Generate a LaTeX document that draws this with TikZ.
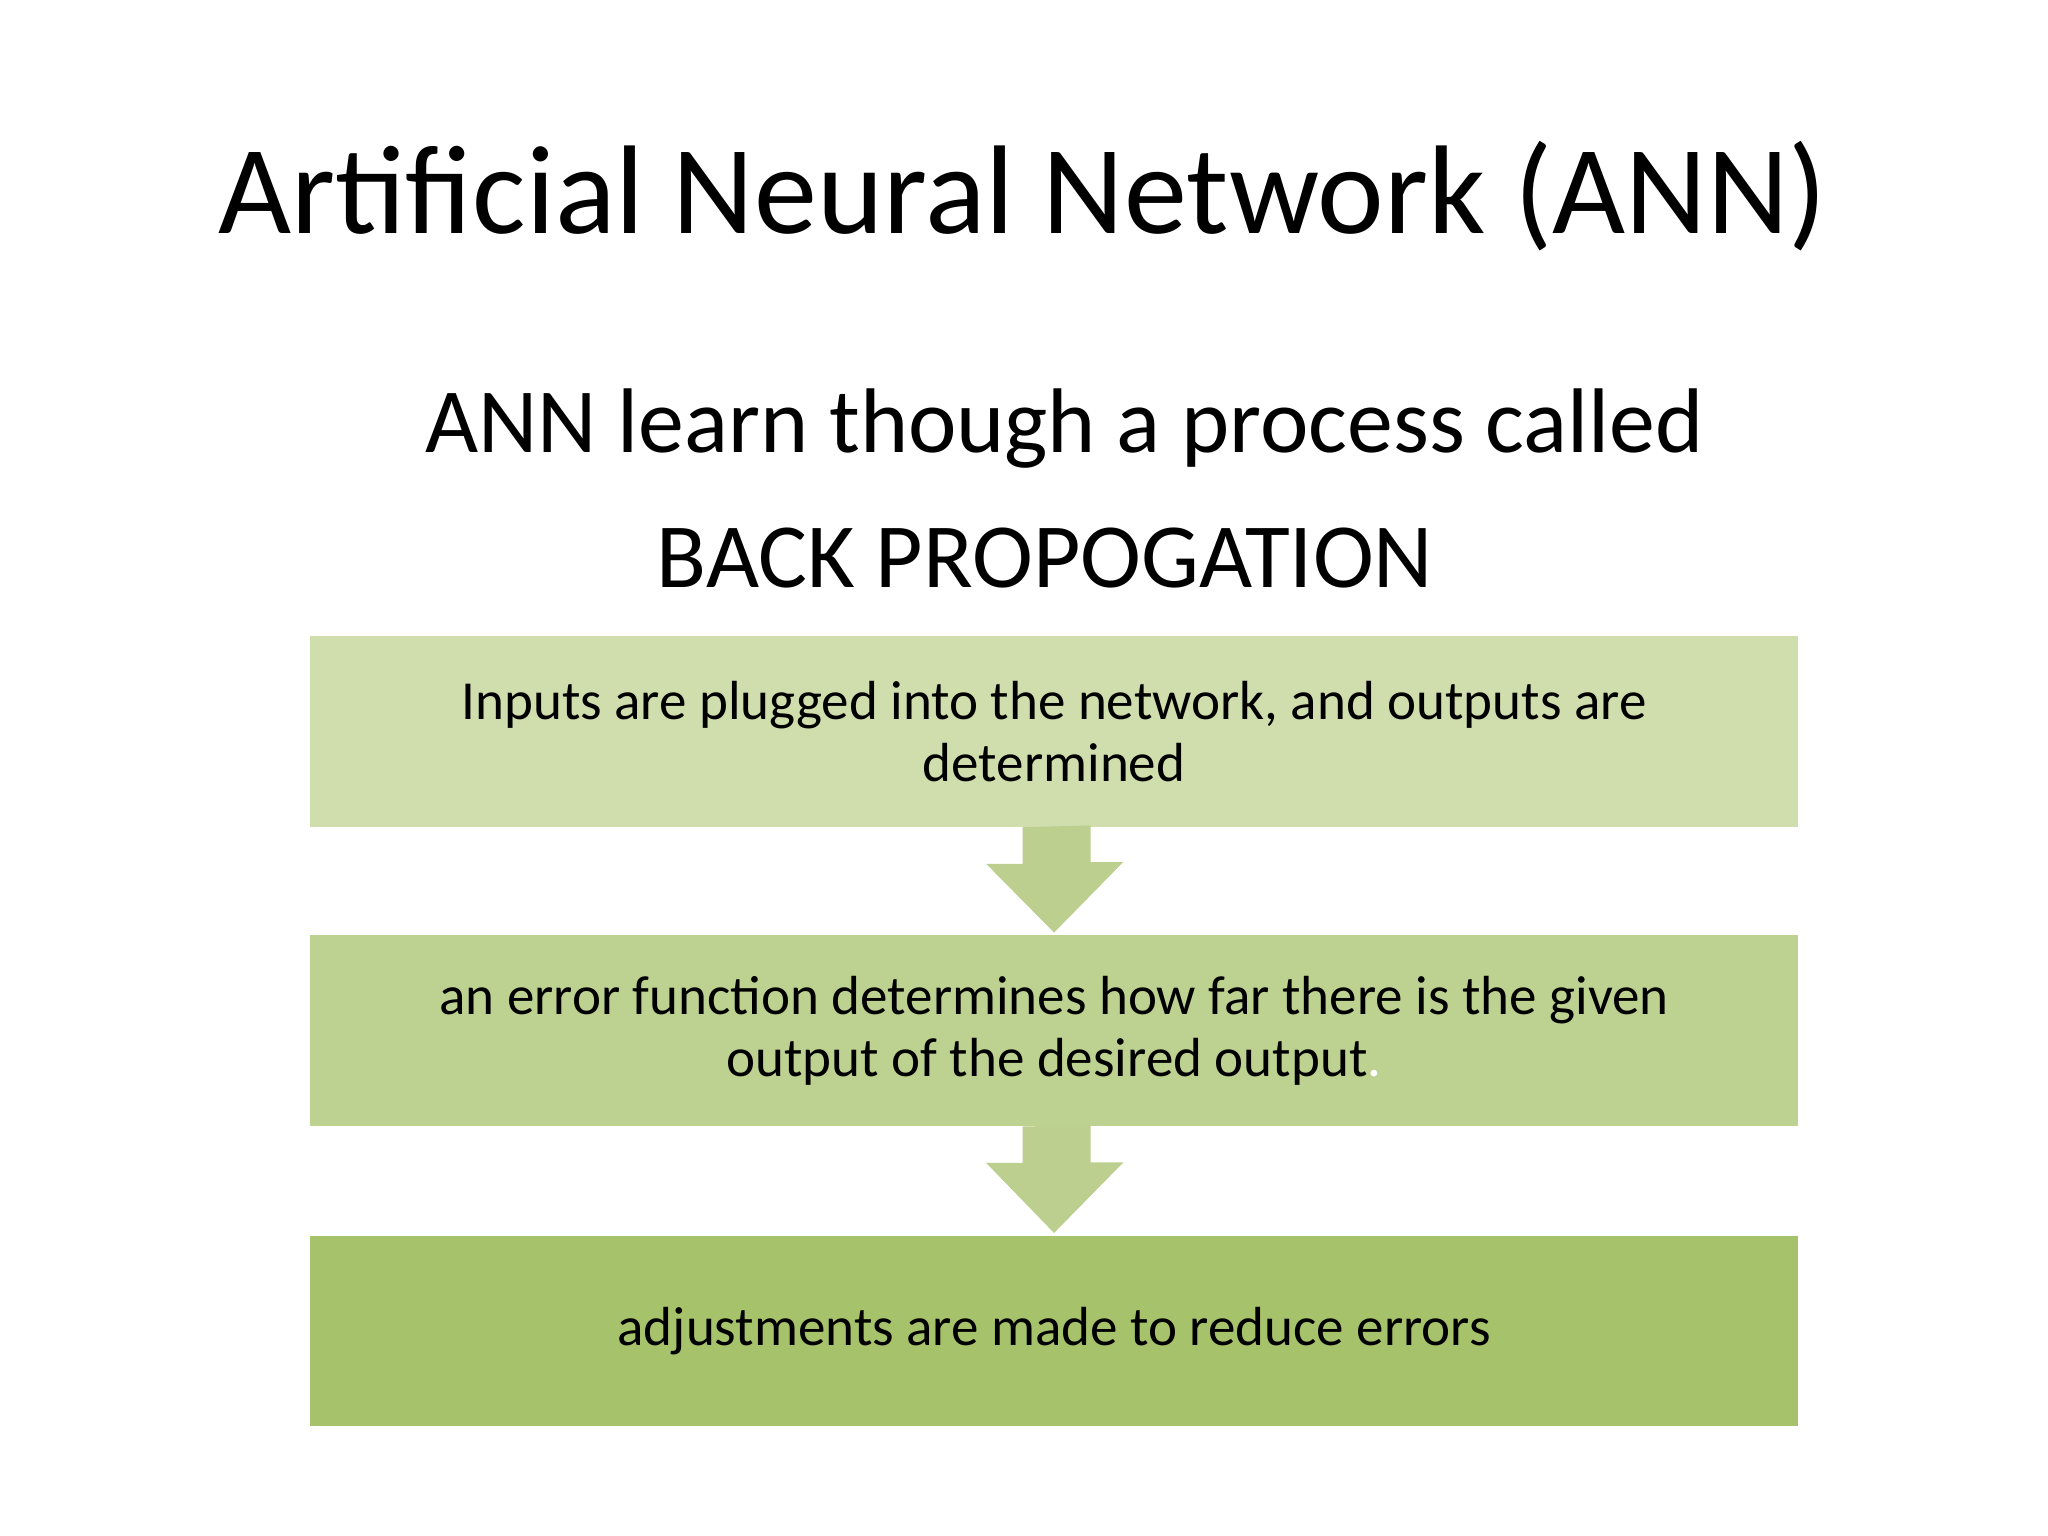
\documentclass[tikz,border=0pt]{standalone}
\usepackage{fontspec}
\setmainfont{Carlito}
\definecolor{cA}{HTML}{D0DDAD}
\definecolor{cB}{HTML}{BDD190}
\definecolor{cC}{HTML}{A6C26A}
\definecolor{cAr}{HTML}{BCCF8F}
\begin{document}
\begin{tikzpicture}[x=0.02cm,y=-0.02cm,
  box/.style={minimum width=22.8cm,minimum height=2.92cm,inner sep=0pt,align=center,font=\fontsize{24}{27}\selectfont},
  arr/.style={fill=cAr,draw=none}]
\useasboundingbox (0,0) rectangle (1568,1176);
\node[font=\fontsize{55}{62}\selectfont] (t) at (783,150) {Artificial Neural Network (ANN)};
\node[font=\fontsize{40}{46}\selectfont] (s1) at (815,328) {ANN learn though a process called};
\node[font=\fontsize{40}{46}\selectfont] (s2) at (800,427) {BACK PROPOGATION};
\node[box,fill=cA] (b1) at (807,560) {Inputs are plugged into the network, and outputs are\\ determined};
\node[box,fill=cB] (b2) at (807,789) {an error function determines how far there is the given\\ output of the desired output\textcolor{white}{.}};
\node[box,fill=cC] (b3) at (807,1019) {adjustments are made to reduce errors};
\fill[arr] (b1.south) ++(-24,0) -- ++(0,28) -- ++(-28,0) -- (807,714) -- (860,660) -- (835,660) -- (835,632) -- cycle;
\fill[arr] (b2.south) ++(-24,0) -- ++(0,28) -- ++(-28,0) -- (807,944) -- (860,890) -- (835,890) -- (835,862) -- cycle;
\end{tikzpicture}
\end{document}
